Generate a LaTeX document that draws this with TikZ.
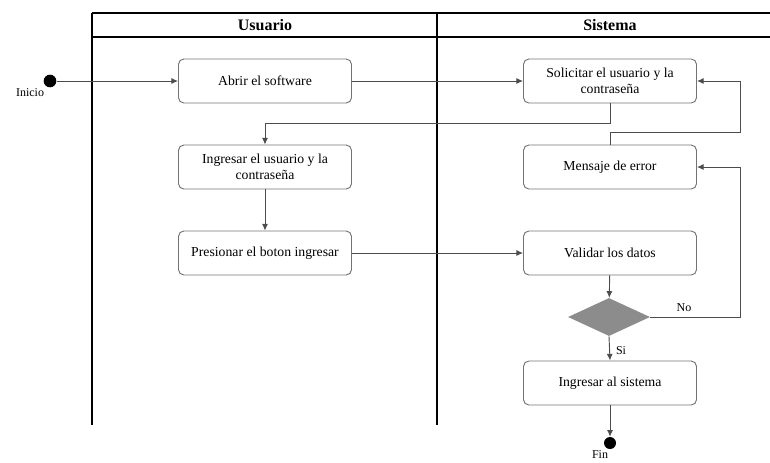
\documentclass[tikz,border=0pt]{standalone}
\usepackage{fontspec}
\setmainfont{Liberation Serif}
\usetikzlibrary{shapes.geometric,arrows.meta}
\begin{document}
\begin{tikzpicture}[x=0.75pt,y=-0.75pt,
  act/.style={draw=black!55, line width=0.7pt, rounded corners=4pt, minimum width=129.75pt, minimum height=33pt, align=center, font=\fontsize{10.3}{12}\selectfont, inner sep=1pt},
  flow/.style={draw=black!70, line width=0.7pt, -{Latex[length=5pt,width=4.5pt]}},
  lane/.style={draw=black, line width=1.1pt},
  dot/.style={circle, fill=black, minimum size=9.5pt, inner sep=0pt},
  lbl/.style={font=\fontsize{9}{10}\selectfont, inner sep=1pt},
  hdr/.style={font=\fontsize{12}{14}\selectfont\bfseries}
]
\useasboundingbox (0,0) rectangle (770,462);
% swimlanes
\draw[lane] (92,13) -- (770,13);
\draw[lane] (92,37) -- (770,37);
\draw[lane] (92,13) -- (92,425);
\draw[lane] (437,13) -- (437,425);
\node[hdr] (hu) at (265,25) {Usuario};
\node[hdr] (hs) at (610,25) {Sistema};
% nodes
\node[dot] (ini) at (50,81) {};
\node[lbl] (inil) at (30,93) {Inicio};
\node[act] (abrir) at (265,81) {Abrir el software};
\node[act] (solic) at (610,81) {Solicitar el usuario y la\\contraseña};
\node[act] (ingr) at (265,167) {Ingresar el usuario y la\\contraseña};
\node[act] (msg) at (610,167) {Mensaje de error};
\node[act] (pres) at (265,253) {Presionar el boton ingresar};
\node[act] (valid) at (610,253) {Validar los datos};
\node[diamond, fill=black!45, draw=none, aspect=2.15, minimum width=61.5pt, minimum height=28.5pt, inner sep=0pt] (dec) at (609,317) {};
\node[act] (sist) at (610,383) {Ingresar al sistema};
\node[dot, minimum size=9pt] (fin) at (610,443) {};
\node[lbl] (finl) at (600,455) {Fin};
\coordinate (r1) at (740,81);
\coordinate (r2) at (740,167);
% connectors
\draw[flow] (ini) -- (abrir);
\draw[flow] (abrir) -- (solic);
\draw[flow] (solic.south) -- ++(0,20) -| (ingr.north);
\draw[flow] (ingr) -- (pres);
\draw[flow] (pres) -- (valid);
\draw[flow] (msg.north) -- ++(0,-12) -| (r1) -- (solic.east);
\draw[flow] (valid) -- (dec);
\draw[flow] (dec.east) -| (r2) -- (msg.east);
\node[lbl] (nol) at (684,308) {No};
\draw[flow] (dec.south) -- (sist.north);
\node[lbl] (sil) at (621,351) {Si};
\draw[flow] (sist) -- (fin);
\end{tikzpicture}
\end{document}
